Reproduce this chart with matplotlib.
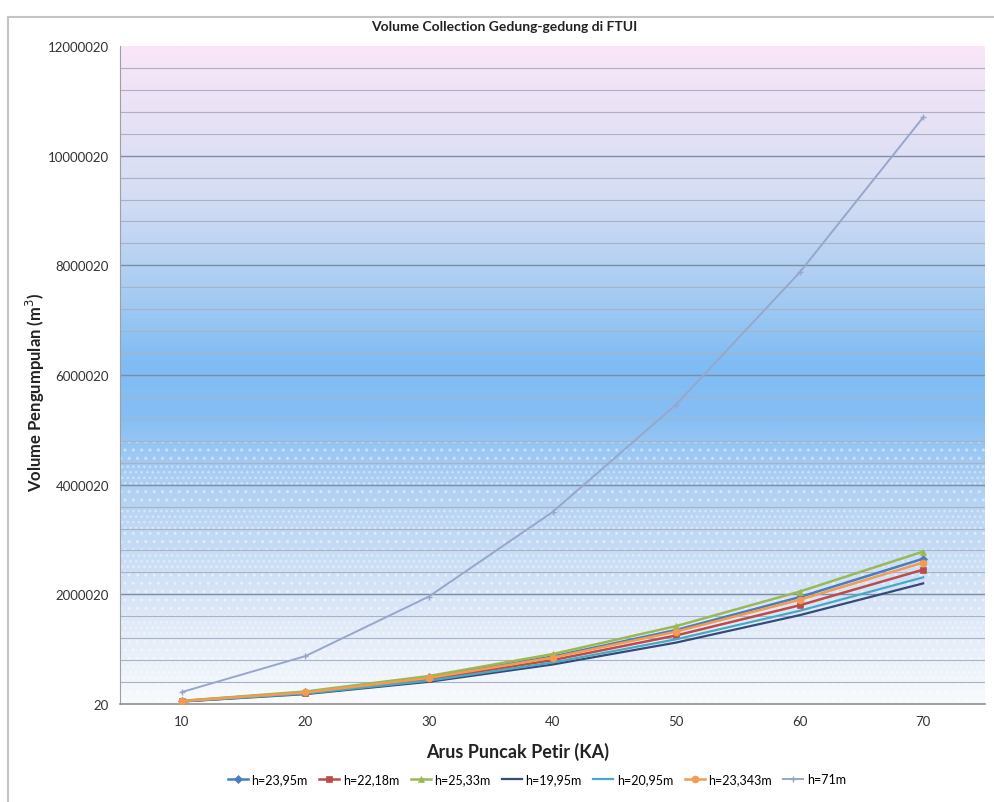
import numpy as np
import matplotlib
matplotlib.use("Agg")
import matplotlib.pyplot as plt
from matplotlib.patches import Rectangle
from matplotlib.lines import Line2D

plt.rcParams["font.family"] = ["Lato", "DejaVu Sans"]
plt.rcParams["hatch.linewidth"] = 1.2

# peak current (kA) and collection volume (m^3) per building height
arus = [10, 20, 30, 40, 50, 60, 70]
labels = ["h=23,95m", "h=22,18m", "h=25,33m", "h=19,95m", "h=20,95m", "h=23,343m", "h=71m"]
v_2395 = [54000, 215000, 485000, 865000, 1350000, 1950000, 2650000]
v_2218 = [50000, 200000, 450000, 800000, 1250000, 1800000, 2450000]
v_2533 = [57000, 228000, 510000, 910000, 1420000, 2050000, 2780000]
v_1995 = [45000, 180000, 405000, 720000, 1120000, 1620000, 2200000]
v_2095 = [47000, 189000, 425000, 755000, 1180000, 1700000, 2310000]
v_23343 = [53000, 210000, 475000, 845000, 1320000, 1900000, 2580000]
v_71 = [218000, 873000, 1960000, 3500000, 5460000, 7870000, 10700000]

series = [v_2395, v_2218, v_2533, v_1995, v_2095, v_23343, v_71]
colors = ["#4A7EBB", "#BE4B48", "#98B954", "#344A78", "#46AAC5", "#F39B50", "#97A7CB"]
markers = ["D", "s", "^", None, None, "o", "+"]
msizes = [4, 5, 5, 0, 0, 5, 4]
widths = [1.8, 1.8, 1.8, 1.6, 1.6, 1.8, 1.4]

fig = plt.figure(figsize=(9.95, 8.03), dpi=100)
ax = fig.add_axes([120 / 995, 1 - 705 / 803, 865 / 995, 658 / 803])

ymin, ymax = 20, 12000020
ax.set_xlim(-0.5, len(arus) - 0.5)
ax.set_ylim(ymin, ymax)

# vertical gradient background: pink at top, blue in the middle, white at bottom
stops = np.array([0.0, 0.15, 0.33, 0.44, 0.52, 0.62, 0.78, 1.0])
cols = np.array([
    [248, 250, 253],
    [218, 230, 247],
    [176, 208, 243],
    [132, 190, 244],
    [128, 188, 244],
    [165, 203, 242],
    [214, 222, 244],
    [250, 230, 248],
]) / 255.0
t = np.linspace(0, 1, 400)
grad = np.stack([np.interp(t, stops, cols[:, i]) for i in range(3)], axis=-1)
ax.imshow(grad[:, None, :], extent=[0, 1, 0, 1], transform=ax.transAxes,
          origin="lower", aspect="auto", zorder=0, interpolation="bilinear")

# dotted texture on the lower bands
hatches = ["..", "...", "..", "...", "..", "..", "...", "..", "...", "..", "...", ".."]
for k, h in enumerate(hatches):
    lo = ymin + k * 400000
    ax.add_patch(Rectangle((-0.5, lo), len(arus), 400000, facecolor="none",
                           edgecolor=(1, 1, 1, 0.35), hatch=h, lw=0, zorder=0.5))

# gridlines
for k in range(1, 30):
    yv = ymin + k * 400000
    major = k % 5 == 0
    ax.axhline(yv, color="#7E8DA6" if major else "#A8B2C4",
               lw=1.0 if major else 0.8, zorder=1)

x = np.arange(len(arus))
for vals, lab, c, m, ms, lw in zip(series, labels, colors, markers, msizes, widths):
    ax.plot(x, vals, color=c, lw=lw, marker=m, markersize=ms, label=lab, zorder=3,
            markeredgewidth=1.0 if m == "+" else 0.5)

ax.set_xticks(x)
ax.set_xticklabels([str(a) for a in arus], fontsize=9.5, color="#333333")
yt = [ymin + k * 2000000 for k in range(7)]
ax.set_yticks(yt)
ax.set_yticklabels([str(v) for v in yt], fontsize=9.5, color="#333333")
ax.tick_params(length=0, pad=8)
for s in ["top", "right"]:
    ax.spines[s].set_visible(False)
ax.spines["left"].set_color("#A0A0A0")
ax.spines["bottom"].set_color("#909090")
ax.spines["bottom"].set_linewidth(1.2)

fig.text(504 / 995, 1 - 27 / 803, "Volume Collection Gedung-gedung di FTUI",
         ha="center", va="center", fontsize=10, fontweight="bold", color="#222222")
fig.text(518 / 995, 1 - 752 / 803, "Arus Puncak Petir (KA)", ha="center", va="center",
         fontsize=13, fontweight="bold", color="#222222")
fig.text(35 / 995, 1 - 392 / 803, "Volume Pengumpulan (m$^3$)", ha="center", va="center",
         rotation=90, fontsize=12, fontweight="bold", color="#222222")

handles, hl = ax.get_legend_handles_labels()
fig.legend(handles, hl, loc="center", bbox_to_anchor=(537 / 995, 1 - 780 / 803), ncol=7,
           frameon=False, fontsize=9, handlelength=1.6, handletextpad=0.3,
           columnspacing=0.9)

# outer chart frame
fig.add_artist(Line2D([8 / 995, 1], [1 - 18 / 803, 1 - 18 / 803], color="#C4C4C4", lw=1.5,
                      transform=fig.transFigure))
fig.add_artist(Line2D([8 / 995, 8 / 995], [0, 1 - 18 / 803], color="#C4C4C4", lw=1.5,
                      transform=fig.transFigure))

fig.savefig("out.png", dpi=100)
